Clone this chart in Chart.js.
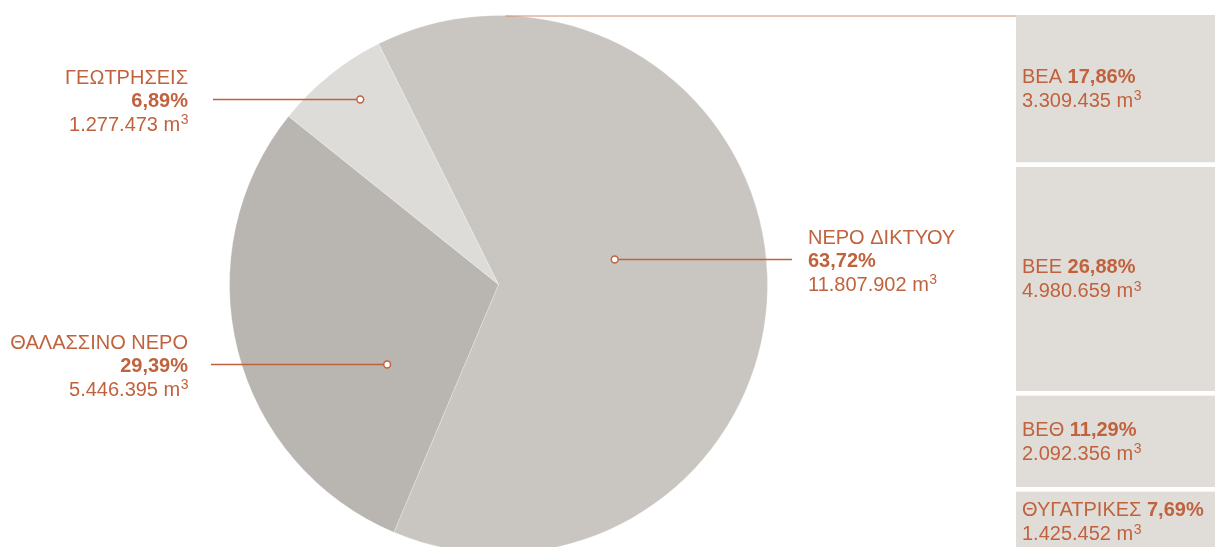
<!DOCTYPE html>
<html>
<head>
<meta charset="utf-8">
<script src="https://cdn.jsdelivr.net/npm/chart.js@4.4.0/dist/chart.umd.min.js"></script>
<style>
  html, body { margin: 0; padding: 0; background: #fff; overflow: hidden; }
  body { width: 1215px; height: 547px; position: relative; }
  #pieChart { position: absolute; left: 0; top: 0; }
  #unitChart { position: absolute; left: 1016px; top: 15px; }
</style>
</head>
<body>
<canvas id="pieChart" width="1016" height="560"></canvas>
<canvas id="unitChart" width="199" height="542"></canvas>
<script>
// water sources (pie)
const sourceLabels = ['ΝΕΡΟ ΔΙΚΤΥΟΥ', 'ΘΑΛΑΣΣΙΝΟ ΝΕΡΟ', 'ΓΕΩΤΡΗΣΕΙΣ'];
const sourcePercents = [63.72, 29.39, 6.89];
const sourceVolumes = [11807902, 5446395, 1277473];
const sourceColors = ['#c9c6c1', '#b9b6b1', '#dddcd8'];

// breakdown of network water by plant (top to bottom)
const unitLabels = ['ΒΕΑ', 'ΒΕΕ', 'ΒΕΘ', 'ΘΥΓΑΤΡΙΚΕΣ'];
const unitPercents = [17.86, 26.88, 11.29, 7.69];
const unitVolumes = [3309435, 4980659, 2092356, 1425452];

const accent = '#c0623d';
const fontFamily = '"Liberation Sans", Arial, Helvetica, sans-serif';
Chart.defaults.font.family = fontFamily;

function fmtPct(v) {
  return v.toFixed(2).replace('.', ',') + '%';
}
function fmtVol(v) {
  return String(v).replace(/\B(?=(\d{3})+(?!\d))/g, '.');
}

// draws "1.234.567 m³" with a raised 3, aligned left or right at x
function drawVolume(ctx, text, x, y, align) {
  ctx.font = '20px ' + fontFamily;
  const main = text + ' m';
  const w1 = ctx.measureText(main).width;
  ctx.font = '14px ' + fontFamily;
  const w2 = ctx.measureText('3').width;
  const start = align === 'right' ? x - w1 - w2 : x;
  ctx.textAlign = 'left';
  ctx.font = '20px ' + fontFamily;
  ctx.fillText(main, start, y);
  ctx.font = '14px ' + fontFamily;
  ctx.fillText('3', start + w1 + 0.5, y - 6.5);
}

// label placement around the pie (dot offset in radius units, text anchor)
const labelLayout = [
  { fx: 0.432, fy: -0.095, lineEnd: 792, textX: 808, align: 'left' },
  { fx: -0.414, fy: 0.295, lineEnd: 211, textX: 188, align: 'right' },
  { fx: -0.514, fy: -0.688, lineEnd: 213, textX: 188, align: 'right' }
];

const pieLabels = {
  id: 'pieLabels',
  afterDatasetsDraw(chart) {
    const ctx = chart.ctx;
    const arc = chart.getDatasetMeta(0).data[0];
    const cx = arc.x, cy = arc.y, r = arc.outerRadius;
    ctx.save();

    // thin connector from the top of the pie to the breakdown column
    ctx.strokeStyle = '#cf8a6e';
    ctx.lineWidth = 1;
    ctx.beginPath();
    ctx.moveTo(cx + 7, cy - r + 0.5);
    ctx.lineTo(chart.width, cy - r + 0.5);
    ctx.stroke();

    sourceLabels.forEach((name, i) => {
      const L = labelLayout[i];
      const dx = cx + L.fx * r;
      const dy = Math.round(cy + L.fy * r) + 0.5;
      ctx.strokeStyle = accent;
      ctx.lineWidth = 1.3;
      ctx.beginPath();
      if (L.align === 'left') {
        ctx.moveTo(dx + 3.5, dy);
      } else {
        ctx.moveTo(dx - 3.5, dy);
      }
      ctx.lineTo(L.lineEnd, dy);
      ctx.stroke();
      ctx.beginPath();
      ctx.arc(dx, dy, 3.4, 0, Math.PI * 2);
      ctx.fillStyle = '#fff';
      ctx.fill();
      ctx.lineWidth = 1.5;
      ctx.stroke();

      ctx.fillStyle = accent;
      ctx.textBaseline = 'alphabetic';
      ctx.textAlign = L.align;
      ctx.font = '20px ' + fontFamily;
      ctx.fillText(name, L.textX, dy + 7.5 - 23.5);
      ctx.font = 'bold 20px ' + fontFamily;
      ctx.fillText(fmtPct(sourcePercents[i]), L.textX, dy + 7.5);
      drawVolume(ctx, fmtVol(sourceVolumes[i]), L.textX, dy + 7.5 + 23.5, L.align);
    });
    ctx.restore();
  }
};

new Chart(document.getElementById('pieChart'), {
  type: 'pie',
  data: {
    labels: sourceLabels,
    datasets: [{
      data: sourcePercents,
      backgroundColor: sourceColors,
      borderColor: 'rgba(255,255,255,0.25)',
      borderWidth: 1,
      hoverOffset: 0,
      offset: 0
    }]
  },
  options: {
    responsive: false,
    animation: false,
    rotation: -26.5,
    layout: { padding: { left: 229, top: 15, right: 248, bottom: 6 } },
    plugins: { legend: { display: false }, tooltip: { enabled: false } },
    events: []
  },
  plugins: [pieLabels]
});

// stacked column: bottom dataset first, so reverse the top-to-bottom order
const unitOrder = unitLabels.map((_, i) => i).reverse();
const unitTotal = unitPercents.reduce((a, b) => a + b, 0);

const unitText = {
  id: 'unitText',
  afterDatasetsDraw(chart) {
    const ctx = chart.ctx;
    ctx.save();
    chart.data.datasets.forEach((ds, di) => {
      const bar = chart.getDatasetMeta(di).data[0];
      const i = ds.unitIndex;
      const top = Math.min(bar.y, bar.base);
      const bottom = Math.max(bar.y, bar.base) - 5;
      const c = (top + bottom) / 2;
      ctx.fillStyle = accent;
      ctx.textAlign = 'left';
      ctx.textBaseline = 'alphabetic';
      ctx.font = '20px ' + fontFamily;
      const name = unitLabels[i] + ' ';
      ctx.fillText(name, 6, c - 5.5);
      const w = ctx.measureText(name).width;
      ctx.font = 'bold 20px ' + fontFamily;
      ctx.fillText(fmtPct(unitPercents[i]), 6 + w, c - 5.5);
      drawVolume(ctx, fmtVol(unitVolumes[i]), 6, c + 18.5, 'left');
    });
    ctx.restore();
  }
};

new Chart(document.getElementById('unitChart'), {
  type: 'bar',
  data: {
    labels: ['ΝΕΡΟ ΔΙΚΤΥΟΥ'],
    datasets: unitOrder.map(i => ({
      label: unitLabels[i],
      unitIndex: i,
      data: [unitPercents[i]],
      backgroundColor: '#e0ddd9',
      borderColor: '#ffffff',
      borderWidth: { top: 0, left: 0, right: 0, bottom: 5 },
      borderSkipped: false,
      barPercentage: 1,
      categoryPercentage: 1
    }))
  },
  options: {
    responsive: false,
    animation: false,
    layout: { padding: 0 },
    scales: {
      x: { display: false, stacked: true },
      y: { display: false, stacked: true, min: 0, max: unitTotal }
    },
    plugins: { legend: { display: false }, tooltip: { enabled: false } },
    events: []
  },
  plugins: [unitText]
});
</script>
</body>
</html>
